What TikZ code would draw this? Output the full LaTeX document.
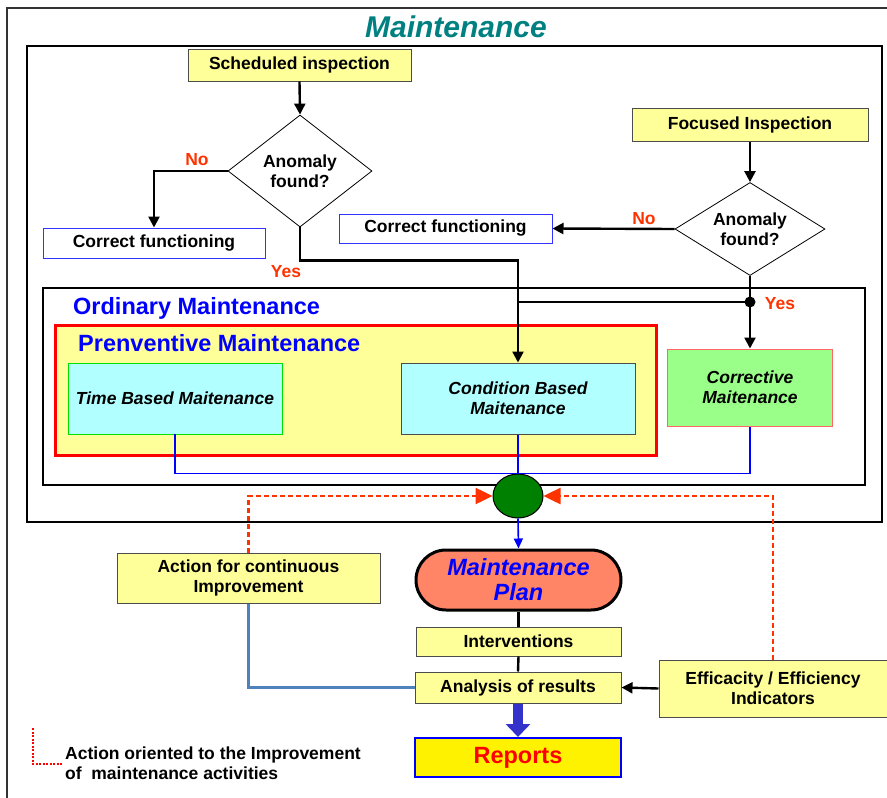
\documentclass[tikz,border=0pt]{standalone}
\usepackage{fontspec}
\setmainfont{Liberation Sans}
\usetikzlibrary{arrows.meta,shapes.geometric}
\definecolor{ybox}{HTML}{FFFF99}
\definecolor{cybox}{HTML}{B2FFFF}
\definecolor{grbox}{HTML}{99FF88}
\definecolor{coral}{HTML}{FF8566}
\definecolor{dgreen}{HTML}{008000}
\definecolor{teal2}{HTML}{008080}
\definecolor{bluetxt}{HTML}{0000FF}
\definecolor{redor}{HTML}{FF3300}
\definecolor{steel}{HTML}{4F81BD}
\definecolor{bigblue}{HTML}{3333CC}
\definecolor{cfblue}{HTML}{3333FF}
\begin{document}
\begin{tikzpicture}[x=1pt,y=-1pt,
  txt/.style={font=\fontsize{17.5}{20}\selectfont\bfseries, align=center, inner sep=0pt},
  ybox/.style={txt, draw=black!70, fill=ybox, line width=1pt},
  cfbox/.style={txt, draw=cfblue, fill=white, line width=1pt},
  dia/.style={txt, diamond, draw=black, line width=0.8pt, fill=white},
  lbl/.style={font=\fontsize{17.5}{20}\selectfont\bfseries, text=redor, inner sep=0pt},
  arr/.style={draw=black, line width=2.4pt, -{Triangle[length=11pt,width=11pt]}},
  bline/.style={draw=black, line width=2.4pt},
  blueline/.style={draw=bluetxt, line width=1.4pt},
  reddash/.style={draw=redor, line width=2.5pt, dash pattern=on 5pt off 3pt, -{Triangle[length=17pt,width=16pt,fill=redor]}},
  head/.style={font=\fontsize{23.5}{26}\selectfont\bfseries, text=bluetxt, inner sep=0pt, anchor=west}
]
\useasboundingbox (0,0) rectangle (887,798);
% outer frame
\draw[black!80, line width=2pt] (7,798) -- (7,8) -- (887,8);
% title
\node[font=\fontsize{30}{32}\selectfont\bfseries\itshape, text=teal2, inner sep=0pt] (title) at (456,27) {Maintenance};
% inner frame
\draw[black, line width=2pt] (27,46) rectangle (882,522);
% ordinary frame
\draw[black, line width=2pt] (43,288) rectangle (865,485);
\node[head] (ordt) at (73,308) {Ordinary Maintenance};
% preventive box
\draw[red, line width=3pt, fill=ybox] (55,325) rectangle (656,455);
\node[head] (prevt) at (78,343) {Prenventive Maintenance};

% top flow
\node[ybox, minimum width=223pt, minimum height=32pt] (sched) at (299.5,65) {Scheduled inspection};
\node[dia, aspect=1.29, minimum width=144pt, minimum height=112pt] (d1) at (300,171) {Anomaly\\found?};
\node[cfbox, minimum width=222pt, minimum height=30pt] (cf1) at (154,243) {Correct functioning};
\node[ybox, minimum width=236pt, minimum height=33pt] (foc) at (750,124.5) {Focused Inspection};
\node[dia, aspect=1.6, minimum width=150pt, minimum height=93pt] (d2) at (750,229) {Anomaly\\found?};
\node[cfbox, minimum width=213pt, minimum height=29pt] (cf2) at (445.5,228.5) {Correct functioning};

% maintenance boxes
\node[txt, font=\fontsize{17.5}{20}\selectfont\bfseries\itshape, draw=green!80!black!60!green, fill=cybox, minimum width=214pt, minimum height=71pt] (tb) at (175,398.5) {Time Based Maitenance};
\node[txt, font=\fontsize{17.5}{20}\selectfont\bfseries\itshape, draw=black!70, line width=1pt, fill=cybox, minimum width=234pt, minimum height=71pt] (cb) at (518,398.5) {Condition Based\\Maitenance};
\node[txt, font=\fontsize{17.5}{20}\selectfont\bfseries\itshape, draw=red!60, line width=1pt, fill=grbox, minimum width=165pt, minimum height=77pt] (cm) at (750,387.5) {Corrective\\Maitenance};

% connectors top
\draw[arr] (sched.south) -- (d1.north);
\draw[arr] (d1.west) -| (cf1.north);
\draw[arr] (d1.south) -- ++(0,33) -| (cb.north);
\draw[arr] (foc.south) -- (d2.north);
\draw[arr] (d2.west) -- (cf2.east);
\draw[arr] (d2.south) -- (cm.north);
\coordinate (dot) at (750,302);
\draw[bline] (dot) -- (dot -| cb.north);
\fill[black] (dot) circle (5.5pt);
\node[lbl] (no1) at (197,160) {No};
\node[lbl] (yes1) at (286,272) {Yes};
\node[lbl] (no2) at (644,219) {No};
\node[lbl] (yes2) at (780,304) {Yes};

% green merge ellipse
\node[ellipse, draw=black, line width=1pt, fill=dgreen, minimum width=50pt, minimum height=44pt, inner sep=0pt] (ell) at (518,496) {};
\draw[blueline] (tb.south) -- ++(0,39) -| (cm.south);
\draw[blueline] (cb.south) -- (ell.north);

% lower part
\node[txt, font=\fontsize{23.5}{25}\selectfont\bfseries\itshape, text=bluetxt, draw=black, line width=3pt, fill=coral, rounded corners=30pt, minimum width=205pt, minimum height=60pt] (plan) at (518.5,580) {Maintenance\\Plan};
\node[ybox, minimum width=205pt, minimum height=29pt] (interv) at (518.5,641.5) {Interventions};
\node[ybox, minimum width=206pt, minimum height=31pt] (anal) at (518,687.5) {Analysis of results};
\node[ybox, minimum width=263pt, minimum height=50pt] (act) at (248.5,578) {Action for continuous\\Improvement};
\node[ybox, minimum width=228pt, minimum height=57pt] (eff) at (773,688.5) {Efficacity / Efficiency\\Indicators};
\node[txt, font=\fontsize{23.5}{25}\selectfont\bfseries, text=red, draw=bluetxt, line width=2pt, fill=yellow, minimum width=206pt, minimum height=39pt] (rep) at (518,757.5) {Reports};

\draw[reddash] (act.north) |- (ell.west);
\draw[reddash] (eff.north) |- (ell.east);
\draw[draw=bluetxt, line width=1.6pt, -{Triangle[length=10pt,width=9pt]}] (ell.south) -- (plan.north);
\draw[bline] (plan.south) -- (interv.north);
\draw[bline] (interv.south) -- (anal.north);
\draw[steel, line width=3pt] (act.south) |- (anal.west);
\draw[arr] (eff.west) -- (anal.east);
\draw[bigblue, line width=10pt, -{Triangle[length=13pt,width=24pt]}] (anal.south) -- (rep.north);

% legend
\coordinate (lg1) at (33,728);
\coordinate (lg2) at (62,764);
\draw[red, line width=1.3pt, dash pattern=on 2pt off 1.5pt] (lg1) |- (lg2);
\node[txt, align=left, anchor=west] (legt) at (65,763.5) {Action oriented to the Improvement\\of\ \ maintenance activities};
\end{tikzpicture}
\end{document}
